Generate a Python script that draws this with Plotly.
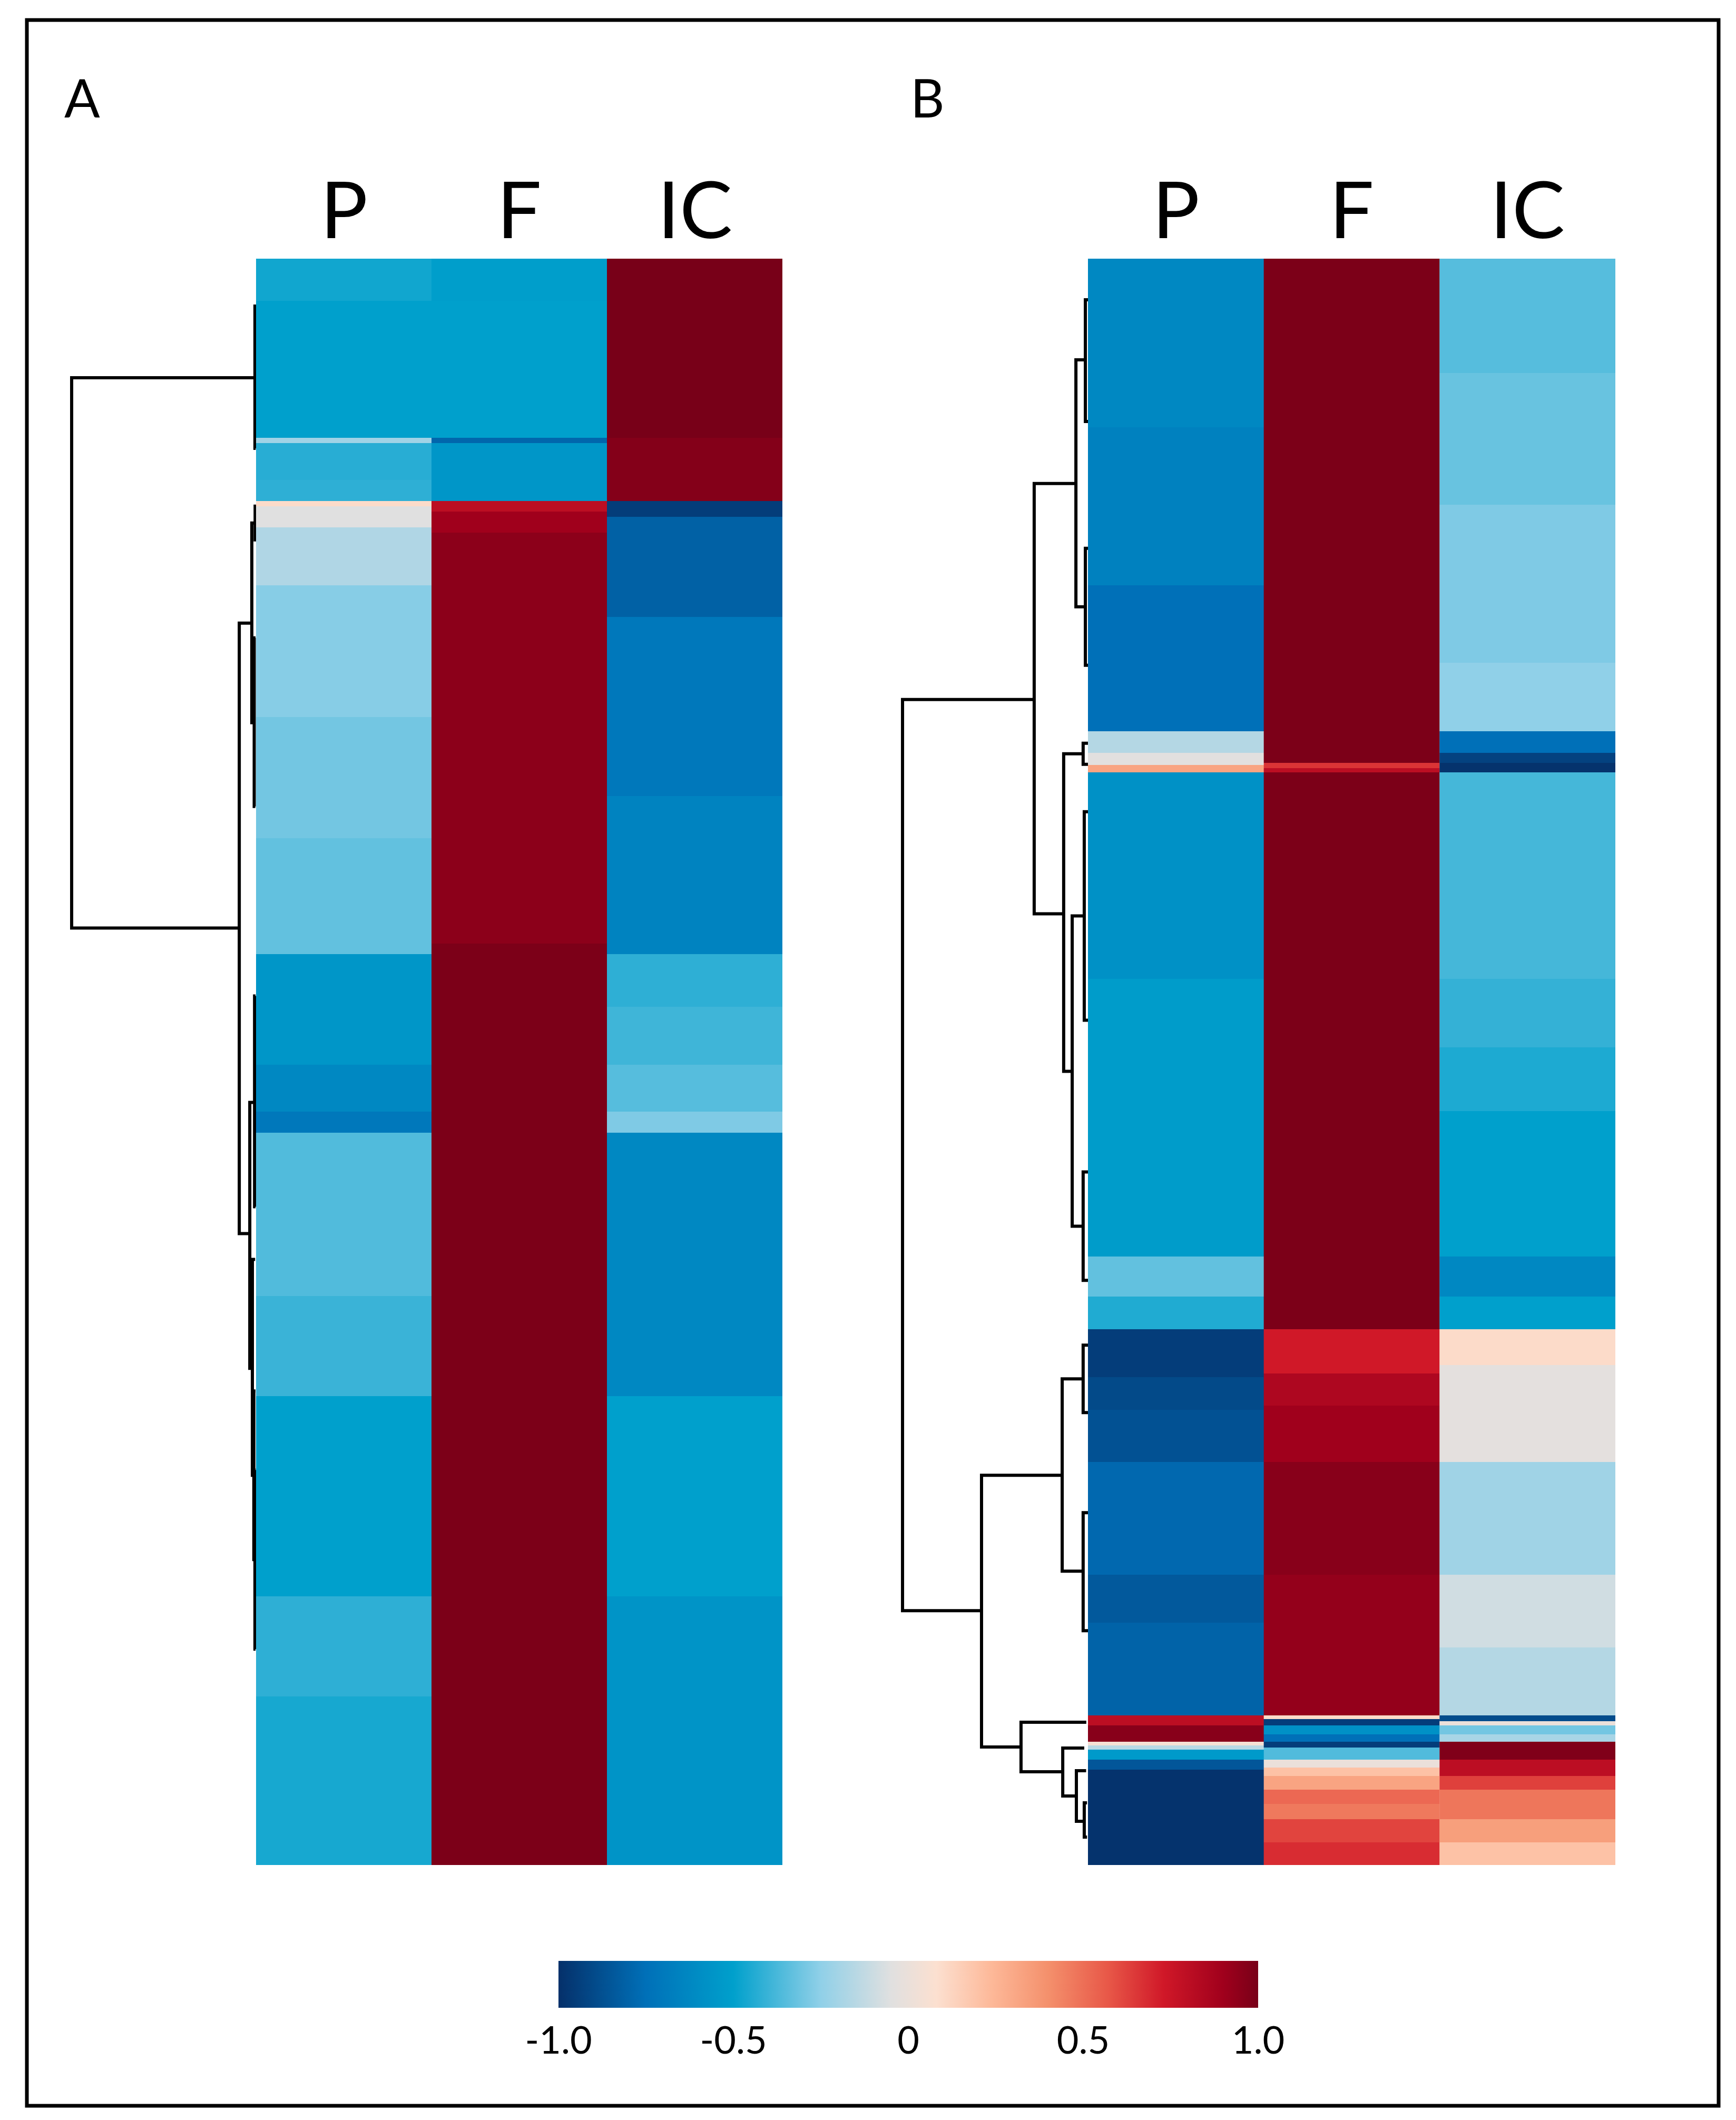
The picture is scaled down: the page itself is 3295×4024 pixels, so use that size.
import plotly.graph_objects as go

# ---------------------------------------------------------------
#   heatmap bands (row units from the top, 305 rows per panel)
# ---------------------------------------------------------------
columns = ["P", "F", "IC"]

# panel A
a_p_edges = [0, 8, 34, 35, 42, 46, 47, 51, 62, 87, 110, 132, 153, 162, 166, 197, 216, 254, 273, 305]
a_p_vals = [-0.47, -0.5, -0.21, -0.43, -0.42, 0.1, -0.05, -0.17, -0.265, -0.3, -0.33,
            -0.55, -0.625, -0.71, -0.36, -0.4, -0.5, -0.42, -0.46]

a_f_edges = [0, 8, 34, 35, 46, 48, 52, 130, 305]
a_f_vals = [-0.51, -0.5, -0.79, -0.55, 0.8, 0.9, 0.95, 0.99]

a_ic_edges = [0, 34, 46, 49, 68, 102, 132, 142, 153, 162, 166, 216, 254, 305]
a_ic_vals = [1.0, 0.97, -0.95, -0.81, -0.71, -0.65, -0.42, -0.39, -0.35, -0.28, -0.625, -0.5, -0.56]

# panel B
b_p_edges = [0, 32, 62, 89.7, 93.8, 96.1, 97.5, 136.7, 189.5, 197.1, 203.3, 212.4, 218.6, 228.5,
             249.9, 259, 276.6, 278.5, 281.6, 282.3, 283.1, 285, 286.9, 305]
b_p_vals = [-0.625, -0.66, -0.75, -0.16, -0.04, 0.32, -0.58, -0.52, -0.33, -0.445, -0.95, -0.9,
            -0.87, -0.78, -0.84, -0.8, 0.8, 0.96, 0.05, -0.15, -0.53, -0.85, -0.99]

b_f_edges = [0, 95.7, 96.7, 97.5, 203.3, 211.7, 217.8, 228.5, 249.9, 276.6, 277.3, 278.5, 280.2,
             281.6, 282.7, 285, 286.5, 288.1, 290.7, 293.4, 296.3, 300.7, 305]
b_f_vals = [0.99, 0.66, 0.8, 0.99, 0.73, 0.85, 0.9, 0.96, 0.93, 0.1, -0.95, -0.58, -0.75, -0.95,
            -0.36, 0.0, 0.2, 0.32, 0.52, 0.47, 0.62, 0.68]

b_ic_edges = [0, 21.7, 46.7, 76.7, 89.7, 93.8, 95.7, 97.5, 136.7, 149.7, 161.9, 189.5, 197.1, 203.3,
              210.1, 228.5, 249.9, 263.7, 276.6, 277.7, 278.5, 280.2, 281.6, 285, 288.1, 290.7,
              296.3, 300.7, 305]
b_ic_vals = [-0.35, -0.32, -0.28, -0.25, -0.75, -0.93, -0.99, -0.38, -0.41, -0.45, -0.5, -0.625, -0.5,
             0.1, -0.03, -0.21, -0.09, -0.16, -0.89, 0.0, -0.3, -0.19, 0.98, 0.8, 0.63, 0.48, 0.34, 0.2]

# ---------------------------------------------------------------
#   dendrogram links: row of upper arm, row of lower arm, link height,
#   height of upper child, height of lower child
# ---------------------------------------------------------------
a_link_top = [22.6, 69.2, 50.2, 160.2, 9, 47, 72, 140, 190, 215, 230]
a_link_bot = [127.1, 185.1, 88.1, 210.7, 36, 53.4, 104, 180, 231, 247, 264]
a_link_d = [1.0, 0.091, 0.023, 0.034, 0.006, 0.005, 0.01, 0.008, 0.02, 0.012, 0.006]
a_child_top = [0.006, 0.023, 0.005, 0.008, 0, 0, 0.003, 0.003, 0.005, 0.003, 0.002]
a_child_bot = [0.091, 0.034, 0.01, 0.02, 0.002, 0, 0.004, 0.003, 0.012, 0.006, 0.003]

b_link_top = [83.7, 42.7, 19.2, 94, 124.8, 231, 212.7, 277.9, 282.8, 287.1, 293.2,
              92, 105, 173.4, 206.3, 238.1, 7.8, 55]
b_link_bot = [256.7, 124.4, 66.1, 154.3, 183.7, 282.6, 249.2, 287.3, 291.9, 296.7, 299.7,
              96, 144.6, 194, 219.1, 260.5, 30.9, 77.2]
b_link_d = [1.0, 0.29, 0.065, 0.131, 0.085, 0.574, 0.139, 0.361, 0.136, 0.0625, 0.02,
            0.026, 0.02, 0.026, 0.026, 0.026, 0.014, 0.014]
b_child_top = [0.29, 0.065, 0.014, 0.026, 0.02, 0.139, 0.026, 0.009, 0.02, 0.01, 0.005,
               0, 0, 0, 0, 0, 0, 0]
b_child_bot = [0.574, 0.131, 0.014, 0.085, 0.026, 0.361, 0.026, 0.136, 0.0625, 0.02, 0.005,
               0, 0, 0, 0, 0, 0, 0]

cbar_ticks = [-1.0, -0.5, 0, 0.5, 1.0]
cbar_labels = ["-1.0", "-0.5", "0", "0.5", "1.0"]

colorscale = [
    [0.0, "#05306a"], [0.125, "#0070b8"], [0.25, "#00a0cc"], [0.375, "#90d0e8"],
    [0.475, "#e0e0e0"], [0.54, "#fce0d0"], [0.62, "#fdb898"], [0.7, "#f4906c"],
    [0.785, "#e85848"], [0.865, "#d01828"], [0.95, "#a0001c"], [1.0, "#780018"],
]

W, H = 3295, 4024
FONT = "Lato"


def band_trace(col, edges, vals, xaxis, yaxis, showscale=False):
    return go.Heatmap(
        z=[[v] for v in vals], x=[col - 0.5, col + 0.5], y=edges,
        colorscale=colorscale, zmin=-1, zmax=1, showscale=showscale,
        xaxis=xaxis, yaxis=yaxis, hoverinfo="skip",
        colorbar=dict(
            orientation="h", x=0.5208, xanchor="center", y=1 - 3714 / H, yanchor="top",
            len=1328 / W, lenmode="fraction", thickness=89, thicknessmode="pixels",
            outlinewidth=0, xpad=0, ypad=0, ticks="",
            tickvals=cbar_ticks, ticktext=cbar_labels,
            tickfont=dict(family=FONT, size=72, color="black"),
        ),
    )


def dendro_trace(tops, bots, ds, ctops, cbots, xaxis, yaxis):
    xs, ys = [], []
    for t, b, d, ct, cb in zip(tops, bots, ds, ctops, cbots):
        xs += [ct, d, d, cb, None]
        ys += [t, t, b, b, None]
    return go.Scatter(x=xs, y=ys, mode="lines", line=dict(color="black", width=6),
                      xaxis=xaxis, yaxis=yaxis, hoverinfo="skip", showlegend=False)


fig = go.Figure()

panel_a = [(a_p_edges, a_p_vals), (a_f_edges, a_f_vals), (a_ic_edges, a_ic_vals)]
panel_b = [(b_p_edges, b_p_vals), (b_f_edges, b_f_vals), (b_ic_edges, b_ic_vals)]

for i, (e, v) in enumerate(panel_a):
    fig.add_trace(band_trace(i, e, v, "x", "y"))
for i, (e, v) in enumerate(panel_b):
    fig.add_trace(band_trace(i, e, v, "x2", "y2", showscale=(i == 0)))

fig.add_trace(dendro_trace(a_link_top, a_link_bot, a_link_d, a_child_top, a_child_bot, "x3", "y"))
fig.add_trace(dendro_trace(b_link_top, b_link_bot, b_link_d, b_child_top, b_child_bot, "x4", "y2"))

ydom = [1 - 3532 / H, 1 - 483 / H]
hidden = dict(visible=False, showgrid=False, zeroline=False)

fig.update_layout(
    width=W, height=H, margin=dict(l=0, r=0, t=0, b=0),
    paper_bgcolor="white", plot_bgcolor="white", showlegend=False,
    xaxis=dict(domain=[478 / W, 1477 / W], range=[-0.5, 2.5], anchor="y", **hidden),
    xaxis2=dict(domain=[2057 / W, 3058 / W], range=[-0.5, 2.5], anchor="y2", **hidden),
    xaxis3=dict(domain=[(478 - 357) / W, 478 / W], range=[1.02, 0], anchor="y", **hidden),
    xaxis4=dict(domain=[(2057 - 359) / W, 2057 / W], range=[1.02, 0], anchor="y2", **hidden),
    yaxis=dict(domain=ydom, range=[305, 0], anchor="x", **hidden),
    yaxis2=dict(domain=ydom, range=[305, 0], anchor="x2", **hidden),
)

# column headers
for xref in ["x", "x2"]:
    for i, name in enumerate(columns):
        fig.add_annotation(x=i, y=1 - 386 / H, xref=xref, yref="paper", text=name,
                           showarrow=False, xanchor="center", yanchor="middle",
                           font=dict(family=FONT, size=150, color="black"))

# panel letters
for letter, px in [("A", 148), ("B", 1752)]:
    fig.add_annotation(x=px / W, y=1 - 176 / H, xref="paper", yref="paper", text=letter,
                       showarrow=False, xanchor="center", yanchor="middle",
                       font=dict(family=FONT, size=100, color="black"))

# outer frame
fig.add_shape(type="rect", xref="paper", yref="paper",
              x0=43 / W, x1=3254 / W, y0=1 - 3989 / H, y1=1 - 30 / H,
              line=dict(color="black", width=7))

fig.write_html("out.html")
